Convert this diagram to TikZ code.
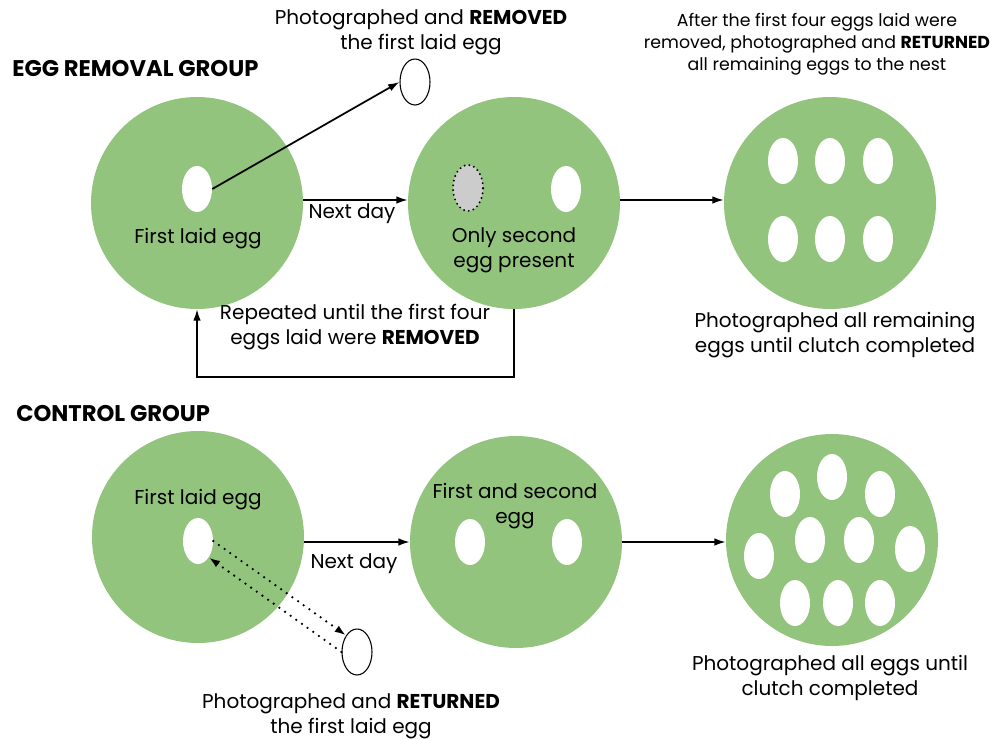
\documentclass[tikz,border=0pt]{standalone}
\usepackage{fontspec}
\setmainfont{Poppins}
\usetikzlibrary{arrows.meta,positioning,shapes.geometric}
\definecolor{ink}{HTML}{000000}
\definecolor{nest}{HTML}{93C47D}
\definecolor{hidden}{HTML}{CCCCCC}
\tikzset{
  every node/.style={font=\fontsize{15}{19}\selectfont, text=ink},
  nestcirc/.style={circle, fill=nest, minimum size=159pt, inner sep=0pt},
  egg/.style={ellipse, fill=white, minimum width=22.5pt, minimum height=34.5pt, inner sep=0pt},
  outegg/.style={egg, draw=ink, line width=0.8pt},
  goneegg/.style={egg, fill=hidden, draw=ink, line width=1.6pt, dash pattern=on 0pt off 3.6pt, line cap=round},
  heading/.style={font=\fontsize{17}{20}\selectfont\bfseries, anchor=west, inner sep=0pt},
  label/.style={align=center},
  smalllabel/.style={align=center, font=\fontsize{13}{16.5}\selectfont},
  arrow/.style={-{Latex[length=3mm,width=2mm]}, line width=1.3pt, draw=ink},
  dotarrow/.style={arrow, line width=1.9pt, dash pattern=on 0pt off 5.2pt, line cap=round},
}
\begin{document}
\begin{tikzpicture}[x=0.75pt, y=-0.75pt]
\useasboundingbox (0,0) rectangle (995,739);
% egg removal group
\node[heading] (remhead) at (12,69) {EGG REMOVAL GROUP};
\node[nestcirc] (r1) at (197,203) {};
\node[nestcirc] (r2) at (514,203) {};
\node[nestcirc] (r3) at (830,203) {};
\node[egg] (r1egg) at (197,189) {};
\node[outegg] (remegg) at (415,82) {};
\node[goneegg] (r2gone) at (468,188) {};
\node[egg] (r2egg) at (566,189) {};
\node[egg] (r3a) at (783,161) {};
\node[egg] (r3b) at (830,161) {};
\node[egg] (r3c) at (878,161) {};
\node[egg] (r3d) at (783,239) {};
\node[egg] (r3e) at (830,239) {};
\node[egg] (r3f) at (878,239) {};
\node[label] (remtxt) at (421,32) {Photographed and \textbf{REMOVED}\\the first laid egg};
\node[label] (r1txt) at (198,239) {First laid egg};
\node[label] (r2txt) at (514,250) {Only second\\egg present};
\node[smalllabel] (rettxt) at (817,44) {After the first four eggs laid were\\removed, photographed and \textbf{RETURNED}\\all remaining eggs to the nest};
\node[label] (r3txt) at (835,335) {Photographed all remaining\\eggs until clutch completed};
\node[label] (looptxt) at (355,327) {Repeated until the first four\\eggs laid were \textbf{REMOVED}};
\node[label] (rday) at (352,214) {Next day};
\coordinate (loop) at (197,377);
\draw[arrow] (r1egg.east) -- (remegg.west);
\draw[arrow] ([yshift=2.25pt]r1.east) -- ([yshift=2.25pt]r2.west);
\draw[arrow] ([yshift=2.25pt]r2.east) -- ([yshift=2.25pt]r3.west);
\draw[arrow] (r2.south) |- (loop) -- (r1.south);
% control group
\node[heading] (conhead) at (16,414) {CONTROL GROUP};
\node[nestcirc] (c1) at (198,537) {};
\node[nestcirc] (c2) at (516,542) {};
\node[nestcirc] (c3) at (832,540) {};
\node[egg] (c1egg) at (198,541) {};
\node[outegg] (photoegg) at (357,652) {};
\node[egg] (c2a) at (470,542) {};
\node[egg] (c2b) at (567,542) {};
\node[egg] (c3a) at (785,494) {};
\node[egg] (c3b) at (832,477) {};
\node[egg] (c3c) at (880,494) {};
\node[egg] (c3d) at (759,556) {};
\node[egg] (c3e) at (810,540) {};
\node[egg] (c3f) at (859,540) {};
\node[egg] (c3g) at (910,549) {};
\node[egg] (c3h) at (795,603) {};
\node[egg] (c3i) at (838,603) {};
\node[egg] (c3j) at (880,603) {};
\node[label] (c1txt) at (198,500) {First laid egg};
\node[label] (c2txt) at (515,506) {First and second\\egg};
\node[label] (c3txt) at (830,678) {Photographed all eggs until\\clutch completed};
\node[label] (phototxt) at (351,716) {Photographed and \textbf{RETURNED}\\the first laid egg};
\node[label] (cday) at (354,564) {Next day};
\draw[arrow] (c1.east |- c2.west) -- (c2.west);
\draw[arrow] (c2.east) -- (c2.east -| c3.west);
\draw[dotarrow] (c1egg.east) -- (photoegg.north west);
\draw[dotarrow] (photoegg.west) -- (c1egg.south east);
\end{tikzpicture}
\end{document}
